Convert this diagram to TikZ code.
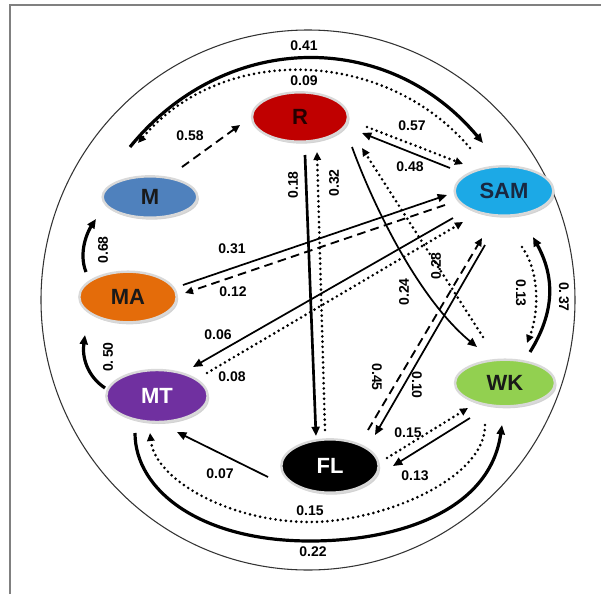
\documentclass[tikz,border=0pt]{standalone}
\usepackage{fontspec}
\setmainfont{Liberation Sans}
\usetikzlibrary{arrows.meta,calc,shadows,shapes.geometric}

\definecolor{rRed}{HTML}{C00000}
\definecolor{samBlue}{HTML}{1CA9E6}
\definecolor{mBlue}{HTML}{4F81BD}
\definecolor{maOrange}{HTML}{E46C0A}
\definecolor{mtPurple}{HTML}{7030A0}
\definecolor{wkGreen}{HTML}{92D050}
\definecolor{frameGray}{HTML}{808080}

\tikzset{
  state/.style={ellipse, inner sep=0pt, draw=gray!30, line width=1.8pt,
    font=\fontsize{16.5}{16.5}\selectfont\bfseries,
    drop shadow={opacity=0.35, shadow xshift=1.2pt, shadow yshift=-1.5pt}},
  lbl/.style={font=\fontsize{10.5}{10.5}\selectfont\bfseries, inner sep=1pt},
  tip/.style={-{Triangle[length=7pt,width=6pt]}},
  smalltip/.style={-{Triangle[length=6pt,width=5.5pt]}},
  solidln/.style={line width=1.3pt},
  heavyln/.style={line width=2.4pt},
  dotln/.style={line width=2.2pt, dash pattern=on 0pt off 3.9pt, line cap=round},
  dashln/.style={line width=1.4pt, dash pattern=on 6.5pt off 4pt}
}

\begin{document}
\begin{tikzpicture}[x=0.75pt,y=-0.75pt]
\useasboundingbox (0,0) rectangle (601,594);

% frame lines and outer circle
\draw[frameGray, line width=1pt] (10,594) -- (10,5) -- (601,5);
\draw[black!80, line width=0.8pt] (308,300) ellipse [x radius=200.25pt, y radius=202.5pt];

% states
\node[state, fill=rRed, text=black!85!red, minimum width=72pt, minimum height=37pt] (R) at (300,117) {R};
\node[state, fill=samBlue, text={rgb,255:red,25;green,40;blue,65}, minimum width=74pt, minimum height=37pt] (SAM) at (504,191) {SAM};
\node[state, fill=mBlue, text=black!90, minimum width=71pt, minimum height=31pt] (M) at (150,197) {M};
\node[state, fill=maOrange, text=black!90, minimum width=73pt, minimum height=38pt] (MA) at (128,297) {MA};
\node[state, fill=mtPurple, text=white, minimum width=76pt, minimum height=39pt] (MT) at (157,396) {MT};
\node[state, fill=black, text=white, minimum width=73pt, minimum height=40pt] (FL) at (330,466) {FL};
\node[state, fill=wkGreen, text=black!90, minimum width=75pt, minimum height=35pt] (WK) at (505,383) {WK};

% top arcs between M and SAM
\draw[heavyln, tip] ($(M)+(-20,-50)$) .. controls +(94,-116) and +(-96,-115) .. ($(SAM)+(-21,-48)$);
\draw[dotln, smalltip] ($(SAM)+(-34,-43)$) .. controls +(-85,-100) and +(85,-100) .. ($(M)+(-12,-54)$);
\node[lbl] (l41) at (304,46) {0.41};
\node[lbl] (l09) at (304,81) {0.09};

% M to R
\draw[dashln, smalltip] ($(M)+(32,-30)$) -- ($(R)+(-60,8)$);
\node[lbl] (l58) at (190,136) {0.58};

% R and SAM
\draw[dotln, smalltip] ($(R)+(67,10)$) -- ($(SAM)+(-41,-27)$);
\draw[solidln, tip] ($(SAM)+(-54,-23)$) -- ($(R)+(62,16)$);
\node[lbl] (l57) at (412,126) {0.57};
\node[lbl] (l48) at (410,167) {0.48};

% R and FL
\draw[line width=2pt, tip] ($(R)+(5,38)$) -- ($(FL)+(-14,-30)$);
\draw[dotln, smalltip] ($(FL)+(-5,-36)$) -- ($(R)+(17,35)$);
\node[lbl, rotate=90] (l18) at (293,185) {0.18};
\node[lbl, rotate=90] (l32) at (334,183) {0.32};

% R and WK
\draw[solidln, tip] ($(R)+(52,30)$) .. controls +(23,63) and +(-57,-47) .. ($(WK)+(-28,-36)$);
\draw[dotln, smalltip] ($(WK)+(-22,-46)$) -- ($(R)+(62,31)$);
\node[lbl, rotate=90] (l24) at (404,292) {0.24};
\node[lbl, rotate=90] (l28) at (436,266) {0.28};

% MA and SAM
\draw[solidln, tip] ($(MA)+(55,-12)$) -- ($(SAM)+(-57,4)$);
\draw[dashln, smalltip] ($(SAM)+(-59,14)$) -- ($(MA)+(57,-4)$);
\node[lbl] (l31) at (232,249) {0.31};
\node[lbl] (l12) at (233,292) {0.12};

% SAM and MT
\draw[solidln, tip] ($(SAM)+(-51,27)$) -- ($(MT)+(36,-29)$);
\draw[dotln, smalltip] ($(MT)+(50,-23)$) -- ($(SAM)+(-41,31)$);
\node[lbl] (l06) at (218,335) {0.06};
\node[lbl] (l08) at (232,377) {0.08};

% FL and SAM
\draw[dashln, smalltip] ($(FL)+(38,-36)$) -- ($(SAM)+(-22,47)$);
\draw[solidln, tip] ($(SAM)+(-19,54)$) -- ($(FL)+(45,-31)$);
\node[lbl, rotate=-90] (l45) at (377,377) {0.45};
\node[lbl, rotate=-90] (l10) at (417,385) {0.10};

% FL and WK
\draw[dotln, smalltip] ($(FL)+(57,-8)$) -- ($(WK)+(-37,25)$);
\draw[solidln, tip] ($(WK)+(-35,35)$) -- ($(FL)+(63,0)$);
\node[lbl] (l15a) at (408,433) {0.15};
\node[lbl] (l13a) at (415,476) {0.13};

% SAM and WK
\draw[heavyln, tip] ($(WK)+(25,-31)$) .. controls +(25,-40) and +(22,40) .. ($(SAM)+(29,46)$);
\draw[dotln, smalltip] ($(SAM)+(18,56)$) .. controls +(18,25) and +(12,-30) .. ($(WK)+(22,-40)$);
\node[lbl, rotate=-90] (l13b) at (521,293) {0.13};
\node[lbl, rotate=-90] (l37) at (564,297) {0.\,37};

% left side arcs
\draw[heavyln, tip] ($(MA)+(-42,-25)$) .. controls +(-8,-20) and +(-8,12) .. ($(M)+(-54,22)$);
\node[lbl, rotate=90] (l68) at (103,250) {0.68};
\draw[heavyln, tip] ($(MT)+(-52,-8)$) .. controls +(-18,-12) and +(-3,22) .. ($(MA)+(-43,38)$);
\node[lbl, rotate=90] (l50) at (108,357) {0.\,50};

% bottom arcs between MT and WK
\draw[heavyln, tip] ($(MT)+(-22,37)$) .. controls +(0,57) and +(-110,0) .. (310,541)
  .. controls +(90,0) and +(-12,85) .. ($(WK)+(-3,42)$);
\draw[dotln, smalltip] ($(WK)+(-20,42)$) .. controls +(0,55) and +(70,0) .. (310,522)
  .. controls +(-80,0) and +(5,47) .. ($(MT)+(-7,37)$);
\node[lbl] (l22) at (313,552) {0.22};
\node[lbl] (l15b) at (310,511) {0.15};

% FL to MT
\draw[solidln, tip] ($(FL)+(-62,11)$) -- ($(MT)+(20,36)$);
\node[lbl] (l07) at (220,474) {0.07};
\end{tikzpicture}
\end{document}
